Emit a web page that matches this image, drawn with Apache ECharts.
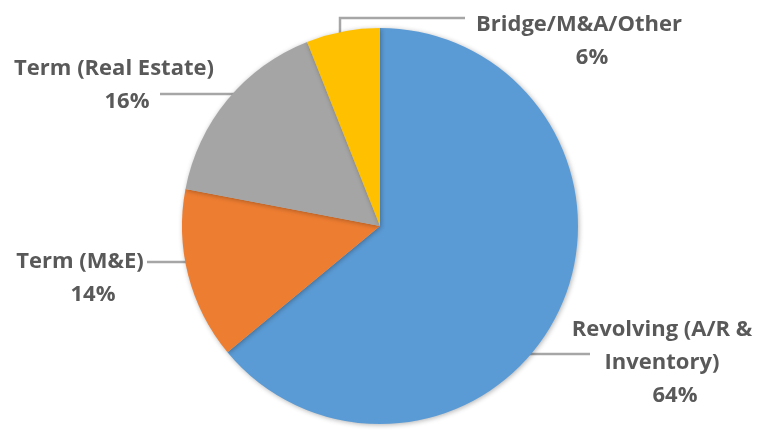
<!DOCTYPE html>
<html>
<head>
<meta charset="utf-8">
<script src="https://cdn.jsdelivr.net/npm/echarts@6/dist/echarts.min.js"></script>
<style>
  html, body { margin: 0; padding: 0; background: #fff; }
  #chart { width: 781px; height: 433px; }
</style>
</head>
<body>
<div id="chart"></div>
<script>
// loan mix, clockwise from 12 o'clock
const categories = ['Revolving (A/R &\nInventory)', 'Term (M&E)', 'Term (Real Estate)', 'Bridge/M&A/Other']
const shares = [64, 14, 16, 6]
const colors = ['#5B9BD5', '#ED7D31', '#A5A5A5', '#FFC000']

const cx = 380
const cy = 226
const R = 198

// where each label sits (center x, top y) and how its leader line runs
const placement = [
  { x: 662, y: 313, lineY: 354, endX: 590, side: 1 },
  { x: 80, y: 245, lineY: 262, endX: 147, side: -1 },
  { x: 114, y: 52, lineY: 94, endX: 160, side: -1 },
  { x: 579, y: 8, elbowX: 340, lineY: 18, endX: 465 }
]

function arcX(y, side) {
  const dy = y - cy
  return cx + side * (Math.sqrt(R * R - dy * dy) - 4)
}
function arcY(x) {
  const dx = x - cx
  return cy - (Math.sqrt(R * R - dx * dx) - 3)
}

const txt = {
  fontFamily: 'Open Sans',
  fontWeight: 'bold',
  fontSize: 22,
  color: '#595959',
  lineHeight: 33,
  align: 'center'
}

const chart = echarts.init(document.getElementById('chart'))
chart.setOption({
  animation: false,
  series: [{
    type: 'pie',
    center: [cx, cy],
    radius: R,
    startAngle: 90,
    clockwise: true,
    avoidLabelOverlap: false,
    data: categories.map((name, i) => ({
      name: name,
      value: shares[i],
      itemStyle: { color: colors[i] }
    })),
    itemStyle: {
      borderWidth: 0,
      shadowBlur: 5,
      shadowColor: 'rgba(0,0,0,0.3)',
      shadowOffsetX: 1,
      shadowOffsetY: 1
    },
    label: {
      show: true,
      position: 'outside',
      formatter: p => '{n|' + p.name.split('\n').join('}\n{n|') + '}\n{p|' + p.value + '%}',
      rich: {
        n: txt,
        p: Object.assign({}, txt, { padding: [0, 0, 0, 26] })
      }
    },
    labelLine: {
      show: true,
      length: 10,
      length2: 10,
      lineStyle: { color: '#A6A6A6', width: 2.5 }
    },
    labelLayout: function (params) {
      const p = placement[params.dataIndex]
      let pts
      if (p.elbowX != null) {
        pts = [[p.elbowX, arcY(p.elbowX)], [p.elbowX, p.lineY], [p.endX, p.lineY]]
      } else {
        pts = [[arcX(p.lineY, p.side), p.lineY], [p.endX, p.lineY]]
      }
      return {
        x: p.x,
        y: p.y,
        align: 'center',
        verticalAlign: 'top',
        labelLinePoints: pts
      }
    }
  }]
})
</script>
</body>
</html>
